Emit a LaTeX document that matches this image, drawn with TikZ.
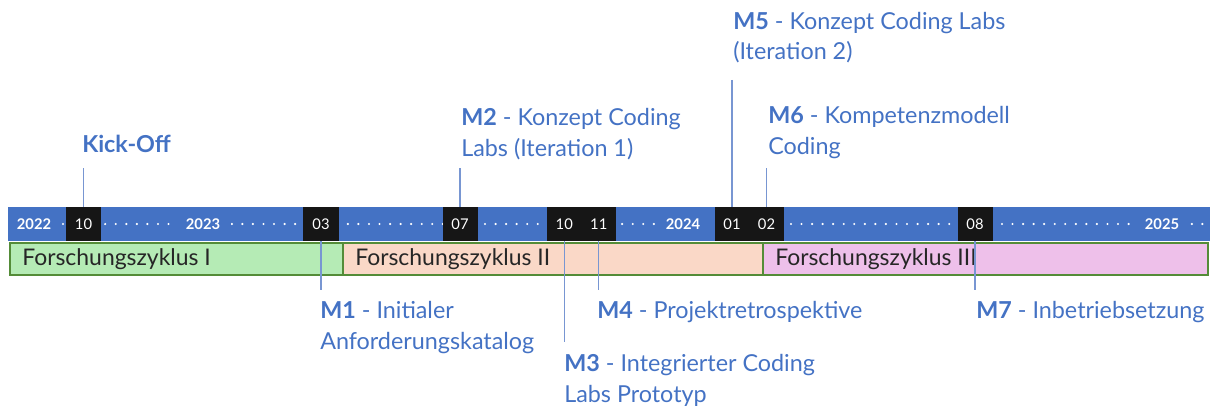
\documentclass[tikz,border=0pt]{standalone}
\usepackage{fontspec}
\setmainfont{Lato}
\usetikzlibrary{positioning}
\definecolor{mybar}{RGB}{68,114,196}
\definecolor{myblue}{RGB}{68,114,196}
\definecolor{mydark}{RGB}{22,22,22}
\definecolor{mygreen}{RGB}{84,140,56}
\definecolor{myline}{RGB}{120,150,210}
\definecolor{hdrgreen}{RGB}{181,235,181}
\definecolor{hdrpeach}{RGB}{250,216,199}
\definecolor{hdrpink}{RGB}{238,192,234}
\tikzset{
  month/.style={rectangle, fill=mydark, text=white,
    minimum width=0.875cm, minimum height=0.85cm, inner sep=0pt,
    font=\fontsize{10.5}{12}\selectfont},
  year/.style={rectangle, fill=mybar, text=white,
    inner xsep=0.28cm, inner ysep=0pt,
    font=\fontsize{10.5}{12}\selectfont\bfseries},
  phasebox/.style={draw=mygreen, line width=1.2pt},
  phaselabel/.style={anchor=west, inner sep=0pt, text=black!85,
    font=\fontsize{16.3}{18}\selectfont},
  milestone/.style={anchor=base west, inner sep=0pt, align=left,
    text=myblue, font=\fontsize{16.6}{22}\selectfont},
  tick/.style={draw=myline, line width=0.8pt}
}

\begin{document}
\begin{tikzpicture}[x=0.025cm, y=-0.025cm]
  \useasboundingbox (0,0) rectangle (1210,407);

  % --- Timeline bar ---
  \fill[mybar] (8,207) rectangle (1210,241);
  \foreach \i in {0,...,108}
    \fill[white] ({63+10.55*\i},224) circle (1.2);

  \node[year, inner xsep=0.2cm] (y22) at (34,224) {2022};
  \node[year] (y23) at (203,224) {2023};
  \node[year] (y24) at (683,224) {2024};
  \node[year] (y25) at (1162,224) {2025};

  \node[month] (m10a) at (83.5,224) {10};
  \node[month] (m03) at (321,224) {03};
  \node[month] (m07) at (460,224) {07};
  \node[month] (m10b) at (564.25,224) {10};
  \node[month] (m11) at (598.75,224) {11};
  \node[month] (m01) at (732,224) {01};
  \node[month] (m02) at (766.5,224) {02};
  \node[month] (m08) at (975,224) {08};

  % --- Research cycles ---
  \draw[phasebox, fill=hdrgreen] (10,243) rectangle (343,275);
  \draw[phasebox, fill=hdrpeach] (343,243) rectangle (763,275);
  \draw[phasebox, fill=hdrpink] (763,243) rectangle (1208,275);
  \node[phaselabel] (fz1) at (22,259) {Forschungszyklus I};
  \node[phaselabel] (fz2) at (355,259) {Forschungszyklus II};
  \node[phaselabel] (fz3) at (775,259) {Forschungszyklus III};

  % --- Milestones above ---
  \node[milestone, font=\fontsize{16.6}{22}\selectfont\bfseries] (kickoff) at (82,152) {Kick-Off};
  \node[milestone] (ms2) at (461,156) {\textbf{M2} - Konzept Coding\\Labs (Iteration 1)};
  \node[milestone] (ms5) at (733,60) {\textbf{M5} - Konzept Coding Labs\\(Iteration 2)};
  \node[milestone] (ms6) at (768,154) {\textbf{M6} - Kompetenzmodell\\Coding};

  \coordinate (tko) at (83.5,168);
  \coordinate (tm2) at (460,168);
  \coordinate (tm5) at (732,80);
  \coordinate (tm6) at (766.5,168);
  \draw[tick] (tko) -- (m10a);
  \draw[tick] (tm2) -- (m07);
  \draw[tick] (tm5) -- (m01);
  \draw[tick] (tm6) -- (m02);

  % --- Milestones below ---
  \node[milestone] (ms1) at (320,349) {\textbf{M1} - Initialer\\Anforderungskatalog};
  \node[milestone] (ms4) at (597,318) {\textbf{M4} - Projektretrospektive};
  \node[milestone] (ms3) at (564,402) {\textbf{M3} - Integrierter Coding\\Labs Prototyp};
  \node[milestone] (ms7) at (976,318) {\textbf{M7} - Inbetriebsetzung};

  \coordinate (tm1) at (321,290);
  \coordinate (tm3) at (564.25,342);
  \coordinate (tm4) at (598.75,290);
  \coordinate (tm7) at (975,290);
  \draw[tick] (m03) -- (tm1);
  \draw[tick] (m10b) -- (tm3);
  \draw[tick] (m11) -- (tm4);
  \draw[tick] (m08) -- (tm7);
\end{tikzpicture}
\end{document}
